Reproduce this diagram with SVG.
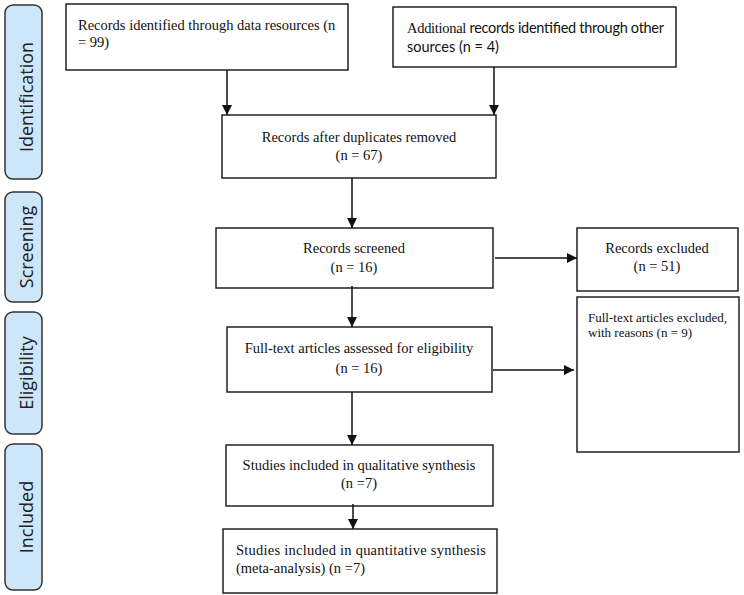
<svg xmlns="http://www.w3.org/2000/svg" width="744" height="595" viewBox="0 0 744 595">
<style>
.phase{fill:#cde6f9;stroke:#333;stroke-width:1.5}
.phase-t{font-family:"Open Sans","Noto Sans",sans-serif;font-size:18px;fill:#222;text-anchor:middle}
.box{fill:#fff;stroke:#222;stroke-width:1.5}
.t{font-family:"Liberation Serif","Times New Roman",serif;font-size:14.5px;fill:#111}
.c{text-anchor:middle}
.s{font-family:"Lato","Liberation Sans",sans-serif}
.sm{font-size:13px}
.conn{stroke:#111;stroke-width:1.5;fill:none;marker-end:url(#ah)}
</style>
<defs>
<marker id="ah" markerUnits="userSpaceOnUse" markerWidth="10" markerHeight="11" refX="10" refY="5.5" orient="auto">
<path d="M0,0.5 L10,5.5 L0,10.5 z" fill="#111"/>
</marker>
</defs>
<rect width="744" height="595" fill="#fff"/>

<g id="phase-identification"><rect class="phase" x="5" y="5" width="37" height="174" rx="8"/><text class="phase-t" transform="translate(33,97) rotate(-90)">Identification</text></g>
<g id="phase-screening"><rect class="phase" x="5" y="192" width="37" height="110" rx="8"/><text class="phase-t" transform="translate(33,247) rotate(-90)">Screening</text></g>
<g id="phase-eligibility"><rect class="phase" x="5" y="312" width="37" height="122" rx="8"/><text class="phase-t" transform="translate(33,373) rotate(-90)">Eligibility</text></g>
<g id="phase-included"><rect class="phase" x="5" y="444" width="37" height="146" rx="8"/><text class="phase-t" transform="translate(33,517) rotate(-90)">Included</text></g>

<g id="n-records-identified"><rect class="box" x="66" y="4" width="282" height="66"/><text class="t" x="78" y="30">Records identified through data resources (n</text><text class="t" x="78" y="47">= 99)</text></g>
<g id="n-additional"><rect class="box" x="393" y="7" width="283" height="60"/><text class="t" x="407" y="33" textLength="257" lengthAdjust="spacing">Additional<tspan class="s"> records identified through other</tspan></text><text class="t s" x="407" y="52">sources (n = 4)</text></g>
<g id="n-after-duplicates"><rect class="box" x="222" y="115" width="274" height="63"/><text class="t c" x="359" y="142">Records after duplicates removed</text><text class="t c" x="359" y="160">(n = 67)</text></g>
<g id="n-screened"><rect class="box" x="216" y="228" width="277" height="60"/><text class="t c" x="354" y="253">Records screened</text><text class="t c" x="354" y="272">(n = 16)</text></g>
<g id="n-excluded"><rect class="box" x="577" y="228" width="161" height="63"/><text class="t c" x="657" y="253">Records excluded</text><text class="t c" x="657" y="271">(n = 51)</text></g>
<g id="n-fulltext-excluded"><rect class="box" x="577" y="297" width="162" height="155"/><text class="t sm" x="588" y="322">Full-text articles excluded,</text><text class="t sm" x="588" y="337">with reasons (n = 9)</text></g>
<g id="n-fulltext-assessed"><rect class="box" x="227" y="327" width="265" height="65"/><text class="t c" x="359" y="353">Full-text articles assessed for eligibility</text><text class="t c" x="359" y="373">(n = 16)</text></g>
<g id="n-qualitative"><rect class="box" x="226" y="445" width="267" height="61"/><text class="t c" x="359" y="470">Studies included in qualitative synthesis</text><text class="t c" x="359" y="488">(n =7)</text></g>
<g id="n-quantitative"><rect class="box" x="223" y="529" width="274" height="64"/><text class="t" x="236" y="555" textLength="250" lengthAdjust="spacing">Studies included in quantitative synthesis</text><text class="t" x="236" y="573">(meta-analysis) (n =7)</text></g>

<g id="connectors">
<line class="conn" x1="227" y1="70" x2="227" y2="115"/>
<line class="conn" x1="494" y1="67" x2="494" y2="115"/>
<line class="conn" x1="352" y1="178" x2="352" y2="228"/>
<line class="conn" x1="352" y1="286" x2="352" y2="327"/>
<line class="conn" x1="352" y1="392" x2="352" y2="445"/>
<line class="conn" x1="353" y1="504" x2="353" y2="529"/>
<line class="conn" x1="495" y1="258" x2="577" y2="258"/>
<line class="conn" x1="493" y1="370" x2="574" y2="370"/>
</g>
</svg>
